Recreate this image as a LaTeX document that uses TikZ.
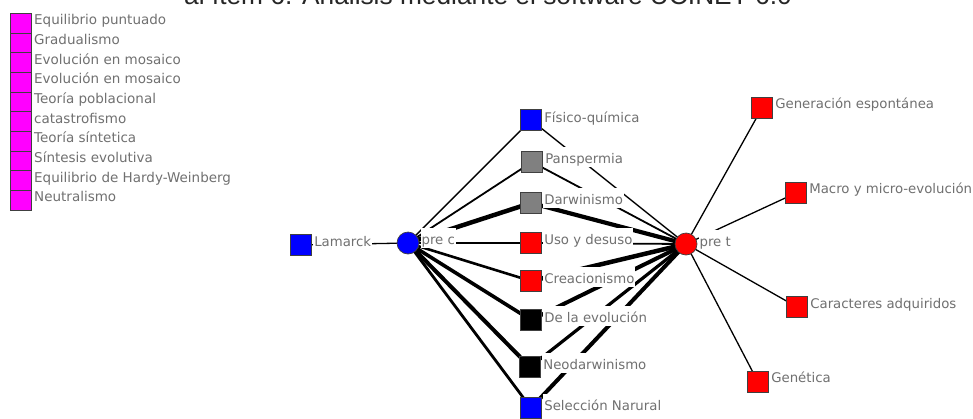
\documentclass[tikz,border=0pt]{standalone}
\usepackage{fontspec}
\setmainfont{DejaVu Sans}
\newfontfamily\titlefont{Liberation Sans}
\usetikzlibrary{calc}
\definecolor{labgray}{RGB}{112,112,112}
\definecolor{nblue}{RGB}{0,0,255}
\definecolor{nred}{RGB}{255,0,0}
\definecolor{ngray}{RGB}{128,128,128}
\definecolor{nmag}{RGB}{255,0,255}
\pgfdeclarelayer{edgelayer}
\pgfsetlayers{edgelayer,main}
\tikzset{
  sq/.style={draw=black!75, line width=0.7pt, minimum size=21.5pt, inner sep=0pt},
  circ/.style={circle, draw=black!75, line width=0.7pt, minimum size=22pt, inner sep=0pt},
  lab/.style={fill=white, text=labgray, font=\fontsize{13.3}{15}\selectfont, text height=16pt, text depth=4pt, inner xsep=1pt, inner ysep=0pt, anchor=base west},
  legsq/.style={draw=black!75, line width=0.7pt, fill=nmag, minimum width=21pt, minimum height=19.67pt, inner sep=0pt},
  leglab/.style={text=labgray, font=\fontsize{13.5}{15}\selectfont, inner sep=0pt, anchor=base west},
  edge/.style={black, line cap=butt}
}
\begin{document}
\begin{tikzpicture}[x=1pt,y=-1pt]
\useasboundingbox (0,0) rectangle (973,418);
% title (cut off at top, as in the reference)
\node[anchor=base east, inner sep=0pt, text=black!85, font=\titlefont\fontsize{26.3}{30}\selectfont] (title) at (792,4.5) {al ítem 6. Análisis mediante el software UCINET 6.0};
% legend
\foreach \t [count=\i from 0] in {Equilibrio puntuado,Gradualismo,Evolución en mosaico,Evolución en mosaico,Teoría poblacional,catastrofismo,Teoría síntetica,Síntesis evolutiva,Equilibrio de Hardy-Weinberg,Neutralismo}{
  \node[legsq] (leg\i) at (20.5,{23.17+19.67*\i}) {};
  \node[leglab] (legl\i) at ({34},{24.7+19.67*\i}) {\t};
}
% nodes
\node[sq, fill=nblue] (lam) at (301,245) {};
\node[circ, fill=nblue] (prec) at (408,243) {};
\node[sq, fill=nblue] (fis) at (531,120) {};
\node[sq, fill=ngray] (pan) at (532,162) {};
\node[sq, fill=ngray] (dar) at (531,203) {};
\node[sq, fill=nred] (uso) at (531,243) {};
\node[sq, fill=nred] (cre) at (531,281) {};
\node[sq, fill=black] (dle) at (531,320) {};
\node[sq, fill=black] (neo) at (530,367) {};
\node[sq, fill=nblue] (sel) at (531,408) {};
\node[circ, fill=nred] (pret) at (686,244) {};
\node[sq, fill=nred] (gen) at (762,108) {};
\node[sq, fill=nred] (mac) at (796,193) {};
\node[sq, fill=nred] (car) at (797,307) {};
\node[sq, fill=nred] (genet) at (758,382) {};
% labels
\node[lab] (llam) at ($(lam.east)+(1,1.5)$) {Lamarck};
\node[lab] (lprec) at ($(prec.east)+(1,1)$) {pre c};
\node[lab] (lfis) at ($(fis.east)+(1,2)$) {Físico-química};
\node[lab] (lpan) at ($(pan.east)+(1,1)$) {Panspermia};
\node[lab] (ldar) at ($(dar.east)+(1,1)$) {Darwinismo};
\node[lab] (luso) at ($(uso.east)+(1,1)$) {Uso y desuso};
\node[lab] (lcre) at ($(cre.east)+(1,2)$) {Creacionismo};
\node[lab] (ldle) at ($(dle.east)+(1,2)$) {De la evolución};
\node[lab] (lneo) at ($(neo.east)+(1,2)$) {Neodarwinismo};
\node[lab] (lsel) at ($(sel.east)+(1,2)$) {Selección Narural};
\node[lab] (lpret) at ($(pret.east)+(1,2)$) {pre t};
\node[lab] (lgen) at ($(gen.east)+(1,0)$) {Generación espontánea};
\node[lab] (lmac) at ($(mac.east)+(1,0)$) {Macro y micro-evolución};
\node[lab] (lcar) at ($(car.east)+(1,1)$) {Caracteres adquiridos};
\node[lab] (lgenet) at ($(genet.east)+(1,0)$) {Genética};
% edges
\begin{pgfonlayer}{edgelayer}
\draw[edge, line width=1.3pt] (lam.center) -- (prec.center);
\draw[edge, line width=1.4pt] (prec.center) -- (fis.center);
\draw[edge, line width=1.8pt] (prec.center) -- (pan.center);
\draw[edge, line width=4.5pt] (prec.center) -- (dar.center);
\draw[edge, line width=1.5pt] (prec.center) -- (uso.center);
\draw[edge, line width=2.6pt] (prec.center) -- (cre.center);
\draw[edge, line width=3.6pt] (prec.center) -- (dle.center);
\draw[edge, line width=4pt] (prec.center) -- (neo.center);
\draw[edge, line width=2.8pt] (prec.center) -- (sel.center);
\draw[edge, line width=1.4pt] (fis.center) -- (pret.center);
\draw[edge, line width=1.8pt] (pan.center) -- (pret.center);
\draw[edge, line width=4.2pt] (dar.center) -- (pret.center);
\draw[edge, line width=1.8pt] (uso.center) -- (pret.center);
\draw[edge, line width=4.5pt] (cre.center) -- (pret.center);
\draw[edge, line width=4pt] (dle.center) -- (pret.center);
\draw[edge, line width=3.2pt] (neo.center) -- (pret.center);
\draw[edge, line width=4pt] (sel.center) -- (pret.center);
\draw[edge, line width=1.3pt] (pret.center) -- (gen.center);
\draw[edge, line width=1.3pt] (pret.center) -- (mac.center);
\draw[edge, line width=1.3pt] (pret.center) -- (car.center);
\draw[edge, line width=1.3pt] (pret.center) -- (genet.center);
\end{pgfonlayer}
\end{tikzpicture}
\end{document}
